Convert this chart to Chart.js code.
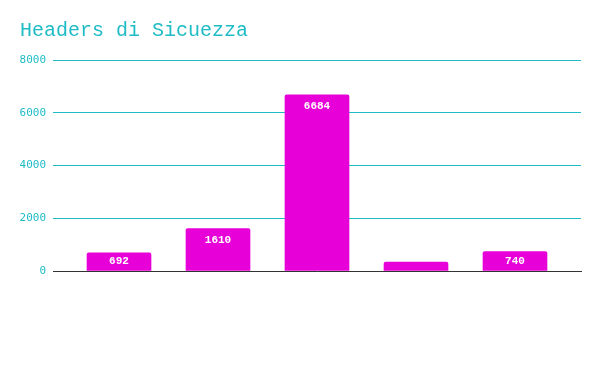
<!DOCTYPE html>
<html>
<head>
<meta charset="utf-8">
<script src="https://cdn.jsdelivr.net/npm/chart.js@4/dist/chart.umd.min.js"></script>
<style>
  html, body { margin: 0; padding: 0; background: #fff; }
  #wrap { width: 600px; height: 371px; }
</style>
</head>
<body>
<div id="wrap"><canvas id="chart"></canvas></div>
<script>
// Data
const categories = ['A', 'B', 'C', 'D', 'E'];
const values = [692, 1610, 6684, 340, 740];
const yTicks = [0, 2000, 4000, 6000, 8000];

const TEAL = '#1fbcc6';
const MAGENTA = '#e800d8';

// Value labels inside the top of each bar
const barLabels = {
  id: 'barLabels',
  afterDatasetsDraw(chart) {
    const ctx = chart.ctx;
    const meta = chart.getDatasetMeta(0);
    ctx.save();
    ctx.font = 'bold 11px "Liberation Mono", "Courier New", monospace';
    ctx.fillStyle = '#fff';
    ctx.textAlign = 'center';
    ctx.textBaseline = 'middle';
    meta.data.forEach((bar, i) => {
      const h = bar.base - bar.y;
      if (h < 14) return;
      ctx.fillText(String(values[i]), bar.x, bar.y + Math.min(11.5, h / 2));
    });
    ctx.restore();
  },
};

new Chart(document.getElementById('chart'), {
  type: 'bar',
  data: {
    labels: categories,
    datasets: [{
      data: values.map((v, i) => ({ x: i, y: v })),
      backgroundColor: MAGENTA,
      borderRadius: 2,
      borderSkipped: 'bottom',
      barThickness: 64,
    }],
  },
  options: {
    responsive: true,
    maintainAspectRatio: false,
    animation: false,
    layout: { padding: { left: 20, right: 19, top: 0, bottom: 100 } },
    plugins: {
      legend: { display: false },
      tooltip: { enabled: false },
      title: {
        display: true,
        text: 'Headers di Sicuezza',
        align: 'start',
        color: TEAL,
        font: { family: '"Liberation Mono", "Courier New", monospace', size: 20, weight: 'normal' },
        padding: { top: 19, bottom: 17 },
      },
    },
    scales: {
      x: {
        type: 'linear',
        offset: false,
        min: -0.6667,
        max: categories.length - 0.3333,
        ticks: { display: false },
        grid: { display: false, drawTicks: false },
        border: { color: '#333', width: 1 },
      },
      y: {
        min: 0,
        max: 8000,
        afterBuildTicks: axis => { axis.ticks = yTicks.map(v => ({ value: v })); },
        afterFit: axis => { axis.width = 33; },
        ticks: {
          color: TEAL,
          padding: 7,
          font: { family: '"DejaVu Sans Mono", monospace', size: 11 },
          callback: v => String(v),
        },
        grid: { color: TEAL, drawTicks: false },
        border: { display: false },
      },
    },
  },
  plugins: [barLabels],
});
</script>
</body>
</html>
